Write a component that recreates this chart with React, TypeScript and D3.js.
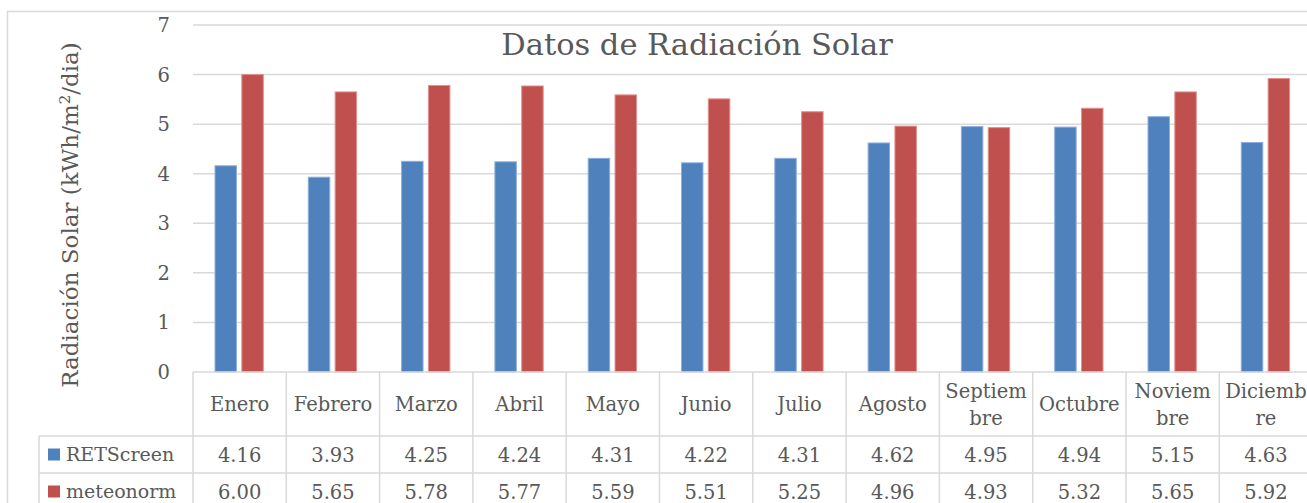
import React from "react";
import * as d3 from "d3";

const categories = ["Enero","Febrero","Marzo","Abril","Mayo","Junio","Julio","Agosto","Septiembre","Octubre","Noviembre","Diciembre"];
const categoryLabelLines = [["Enero"],["Febrero"],["Marzo"],["Abril"],["Mayo"],["Junio"],["Julio"],["Agosto"],["Septiem","bre"],["Octubre"],["Noviem","bre"],["Diciemb","re"]];
const seriesNames = ["RETScreen", "meteonorm"];
const retscreen = [4.16,3.93,4.25,4.24,4.31,4.22,4.31,4.62,4.95,4.94,5.15,4.63];
const meteonorm = [6.00,5.65,5.78,5.77,5.59,5.51,5.25,4.96,4.93,5.32,5.65,5.92];
const yTicks = [0,1,2,3,4,5,6,7];
const colors = ["#4f81bd", "#c0504d"];
const strokes = ["#8eaedb", "#e0908e"];

const FONT = "'DejaVu Serif', serif";
const TEXT = "#595959";
const GRID = "#d9d9d9";

export default function App() {
  const W = 1307, H = 503;
  const x0 = 193, step = 93.3;
  const x = d3.scaleBand<string>().domain(categories).range([x0, x0 + step * categories.length]).paddingInner(0).paddingOuter(0);
  const xi = d3.scaleBand<string>().domain(seriesNames).range([22, 70.3]).paddingInner(0.2).paddingOuter(0);
  const y = d3.scaleLinear().domain([0, 7]).range([372, 25]);
  const data = [retscreen, meteonorm];
  const rowTop = [372, 436, 473, 510];
  const legendX = 39;
  const right = x0 + step * categories.length;

  return (
    <svg width={W} height={H} style={{ position: "absolute", left: 0, top: 0 }} fontFamily={FONT}>
      <rect x={0} y={0} width={W} height={H} fill="#fff" />
      <rect x={7.5} y={11.5} width={W + 10} height={H + 10} fill="none" stroke={GRID} strokeWidth={1.5} />
      {/* gridlines */}
      {yTicks.filter(t => t > 0).map(t => (
        <line key={t} x1={x0} x2={W} y1={y(t)} y2={y(t)} stroke={GRID} strokeWidth={1.5} />
      ))}
      {/* y tick labels */}
      {yTicks.map(t => (
        <text key={t} x={170} y={y(t)} dy="0.36em" textAnchor="end" fontSize={19.5} fill={TEXT}>{t}</text>
      ))}
      {/* title */}
      <text x={697} y={55} textAnchor="middle" fontSize={30.5} fill={TEXT}>Datos de Radiación Solar</text>
      {/* y axis title */}
      <text transform={`translate(78,215) rotate(-90)`} textAnchor="middle" fontSize={23} fill={TEXT}>
        Radiación Solar (kWh/m<tspan dy={-8} fontSize={15}>2</tspan><tspan dy={8}>/dia)</tspan>
      </text>
      {/* bars */}
      {categories.map((c, i) => (
        <g key={c}>
          {seriesNames.map((s, k) => (
            <rect key={s}
              x={(x(c) as number) + (xi(s) as number)}
              y={y(data[k][i])}
              width={xi.bandwidth()}
              height={y(0) - y(data[k][i])}
              fill={colors[k]} stroke={strokes[k]} strokeWidth={1} />
          ))}
        </g>
      ))}
      {/* table lines */}
      <line x1={x0} x2={W} y1={372} y2={372} stroke={GRID} strokeWidth={1.5} />
      <line x1={legendX} x2={W} y1={rowTop[1]} y2={rowTop[1]} stroke={GRID} strokeWidth={1.5} />
      <line x1={legendX} x2={W} y1={rowTop[2]} y2={rowTop[2]} stroke={GRID} strokeWidth={1.5} />
      <line x1={legendX} x2={legendX} y1={rowTop[1]} y2={H} stroke={GRID} strokeWidth={1.5} />
      {categories.map(c => (
        <line key={c} x1={x(c) as number} x2={x(c) as number} y1={372} y2={H} stroke={GRID} strokeWidth={1.5} />
      ))}
      <line x1={right} x2={right} y1={372} y2={H} stroke={GRID} strokeWidth={1.5} />
      {/* header labels */}
      {categories.map((c, i) => {
        const cx = (x(c) as number) + step / 2;
        const lines = categoryLabelLines[i];
        const cy = (rowTop[0] + rowTop[1]) / 2;
        return (
          <text key={c} x={cx} textAnchor="middle" fontSize={19.5} fill={TEXT}>
            {lines.map((l, j) => (
              <tspan key={j} x={cx} y={cy + (j - (lines.length - 1) / 2) * 27} dy="0.36em">{l}</tspan>
            ))}
          </text>
        );
      })}
      {/* data rows */}
      {seriesNames.map((s, k) => {
        const cy = (rowTop[k + 1] + rowTop[k + 2]) / 2;
        return (
          <g key={s}>
            <rect x={48} y={cy - 6} width={12} height={12} fill={colors[k]} />
            <text x={66} y={cy} dy="0.36em" fontSize={19} fill={TEXT}>{s}</text>
            {categories.map((c, i) => (
              <text key={c} x={(x(c) as number) + step / 2} y={cy} dy="0.36em" textAnchor="middle" fontSize={19.5} fill={TEXT}>
                {d3.format(".2f")(data[k][i])}
              </text>
            ))}
          </g>
        );
      })}
    </svg>
  );
}
